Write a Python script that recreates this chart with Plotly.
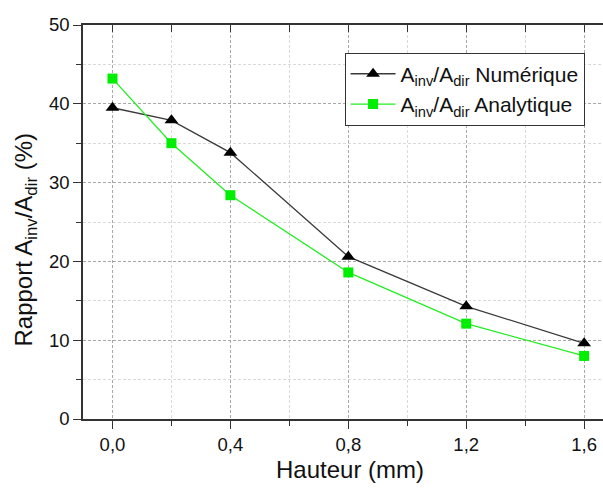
import plotly.graph_objects as go

hauteur = [0.0, 0.2, 0.4, 0.8, 1.2, 1.6]
numerique = [39.5, 37.9, 33.8, 20.6, 14.3, 9.6]
analytique = [43.2, 35.0, 28.4, 18.6, 12.1, 8.0]

name_num = "A<sub>inv</sub>/A<sub>dir</sub> Numérique"
name_ana = "A<sub>inv</sub>/A<sub>dir</sub> Analytique"
xtitle = "Hauteur (mm)"
ytitle = "Rapport A<sub>inv</sub>/A<sub>dir</sub> (%)"

FONT = "Liberation Sans, Arial, sans-serif"

fig = go.Figure()
fig.add_trace(go.Scatter(
    x=hauteur, y=numerique, name=name_num, mode="lines+markers",
    line=dict(color="#3a3a3a", width=1.3),
    marker=dict(symbol="triangle-up", size=12, color="black"),
))
fig.add_trace(go.Scatter(
    x=hauteur, y=analytique, name=name_ana, mode="lines+markers",
    line=dict(color="#22ee22", width=1.3),
    marker=dict(symbol="square", size=10, color="#00ee00"),
))

# top axis with inward ticks (no data)
fig.add_trace(go.Scatter(x=[0], y=[0], xaxis="x2", mode="markers",
                         marker=dict(opacity=0), showlegend=False, hoverinfo="skip"))

fig.update_layout(
    width=603, height=490,
    margin=dict(l=83, r=0, t=25, b=71, autoexpand=False),
    plot_bgcolor="white", paper_bgcolor="white",
    separators=", ",
    font=dict(family=FONT, color="#111111"),
    showlegend=True,
    legend=dict(
        x=0.503, y=0.93, xanchor="left", yanchor="top",
        bgcolor="white", bordercolor="#333333", borderwidth=1,
        font=dict(size=21, family=FONT, color="#111111"),
        itemwidth=45, tracegroupgap=0,
    ),
    xaxis=dict(
        range=[-0.1, 1.664], tick0=0, dtick=0.4, tickformat=".1f",
        automargin=False,
        showline=True, linecolor="#333333", linewidth=1.5,
        ticks="outside", ticklen=8, tickwidth=1.3, tickcolor="#333333",
        tickfont=dict(size=18.5, family=FONT, color="#111111"),
        showgrid=True, gridcolor="#a8a8a8", griddash="3px,2px", gridwidth=1,
        zeroline=False,
        minor=dict(dtick=0.2, ticks="outside", ticklen=5, tickcolor="#333333",
                   showgrid=True, gridcolor="#dadada", griddash="3px,2px"),
    ),
    xaxis2=dict(
        overlaying="x", matches="x", side="top", showticklabels=False,
        automargin=False,
        showline=True, linecolor="#333333", linewidth=1.5,
        ticks="inside", ticklen=7, tickwidth=1.3, tickcolor="#333333",
        tick0=0, dtick=0.2, showgrid=False, zeroline=False,
    ),
    yaxis=dict(
        range=[0, 50], tick0=0, dtick=10,
        automargin=False,
        showline=True, linecolor="#333333", linewidth=1.5,
        ticks="outside", ticklen=8, tickwidth=1.3, tickcolor="#333333",
        tickfont=dict(size=18.5, family=FONT, color="#111111"),
        showgrid=True, gridcolor="#a8a8a8", griddash="3px,2px", gridwidth=1,
        zeroline=False,
        minor=dict(dtick=5, ticks="outside", ticklen=5, tickcolor="#333333",
                   showgrid=True, gridcolor="#dadada", griddash="3px,2px"),
    ),
    annotations=[
        dict(
            text=ytitle, textangle=-90, xref="paper", yref="paper",
            x=-0.1115, y=0.4556, xanchor="center", yanchor="middle", showarrow=False,
            font=dict(size=24, family=FONT, color="#111111"),
        ),
        dict(
            text=xtitle, xref="paper", yref="paper",
            x=0.5135, y=-0.129, xanchor="center", yanchor="middle", showarrow=False,
            font=dict(size=24, family=FONT, color="#111111"),
        ),
    ],
)

fig.write_html("out.html",
               config={"displayModeBar": False},
               post_script="document.body.style.margin='0';document.body.style.overflow='hidden';")
